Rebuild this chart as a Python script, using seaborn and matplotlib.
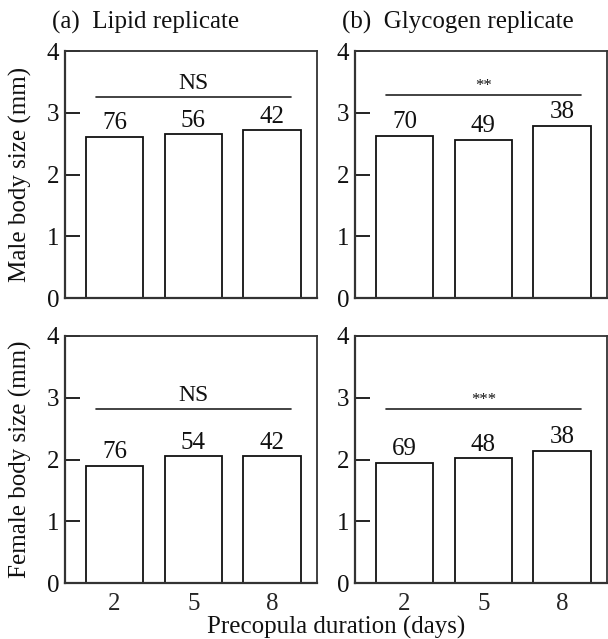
import matplotlib
matplotlib.use("Agg")
import matplotlib.pyplot as plt
import seaborn as sns
import pandas as pd

sns.set_theme(style="white")
plt.rcParams["font.family"] = ["Liberation Serif", "DejaVu Serif"]

durations = ["2", "5", "8"]

lipid_male = [2.61, 2.65, 2.72]
lipid_male_n = [76, 56, 42]
glycogen_male = [2.63, 2.56, 2.79]
glycogen_male_n = [70, 49, 38]

lipid_female = [1.90, 2.05, 2.05]
lipid_female_n = [76, 54, 42]
glycogen_female = [1.95, 2.02, 2.14]
glycogen_female_n = [69, 48, 38]

sig_labels = [["NS", "**"], ["NS", "***"]]
sig_levels = [[3.26, 3.29], [2.81, 2.81]]

panel_titles = ["(a)  Lipid replicate", "(b)  Glycogen replicate"]
row_ylabels = ["Male body size (mm)", "Female body size (mm)"]

W, H = 608, 639
fig = plt.figure(figsize=(W / 100, H / 100), dpi=100)

def px_axes(left, top, right, bottom):
    return fig.add_axes([left / W, 1 - bottom / H, (right - left) / W, (bottom - top) / H])

axes = [
    [px_axes(65, 51, 317, 298), px_axes(355, 51, 607, 298)],
    [px_axes(65, 336, 317, 583), px_axes(355, 336, 607, 583)],
]

values = [[lipid_male, glycogen_male], [lipid_female, glycogen_female]]
counts = [[lipid_male_n, glycogen_male_n], [lipid_female_n, glycogen_female_n]]

FS = 18

for r in range(2):
    for c in range(2):
        ax = axes[r][c]
        df = pd.DataFrame({"duration": durations, "size": values[r][c]})
        sns.barplot(data=df, x="duration", y="size", ax=ax, color="white",
                    edgecolor="#111111", linewidth=1.3, width=0.73,
                    saturation=1, errorbar=None)
        ax.set_xlim(-0.63, 2.57)
        ax.set_ylim(0, 4)
        ax.set_yticks([0, 1, 2, 3, 4])
        ax.set_yticklabels(["0", "1", "2", "3", "4"])
        ax.tick_params(axis="y", direction="in", length=11, width=1.3,
                       colors="#111111", labelsize=FS, pad=4, left=True)
        ax.tick_params(axis="x", length=0, labelsize=FS, pad=7)
        for s in ax.spines.values():
            s.set_color("#333333")
            s.set_linewidth(1.3)
        ax.spines["left"].set_linewidth(1.6)
        ax.spines["bottom"].set_linewidth(1.6)
        ax.set_xlabel("")
        ax.set_ylabel("")
        if r == 0:
            ax.set_xticklabels([])
        # sample sizes above bars
        for i, (v, n) in enumerate(zip(values[r][c], counts[r][c])):
            ax.text(i, v + 0.04, str(n), ha="center", va="bottom", fontsize=FS,
                    color="#111111")
        # significance bar
        y = sig_levels[r][c]
        ax.plot([-0.24, 2.24], [y, y], color="#222222", lw=1.2)
        lab = sig_labels[r][c]
        if lab == "NS":
            ax.text(1, y + 0.05, lab, ha="center", va="bottom", fontsize=17,
                    color="#111111")
        else:
            ax.text(1, y + 0.02, lab, ha="center", va="bottom", fontsize=12,
                    color="#111111")

for c in range(2):
    axes[0][c].set_title(panel_titles[c], loc="left", fontsize=FS,
                         x=-0.05, pad=16, color="#111111")
for r in range(2):
    axes[r][0].set_ylabel(row_ylabels[r], fontsize=FS, labelpad=11, color="#111111")

fig.text(336 / W, 1 - 627 / H, "Precopula duration (days)", ha="center",
         va="center", fontsize=FS, color="#111111")

fig.savefig("out.png", dpi=100)
